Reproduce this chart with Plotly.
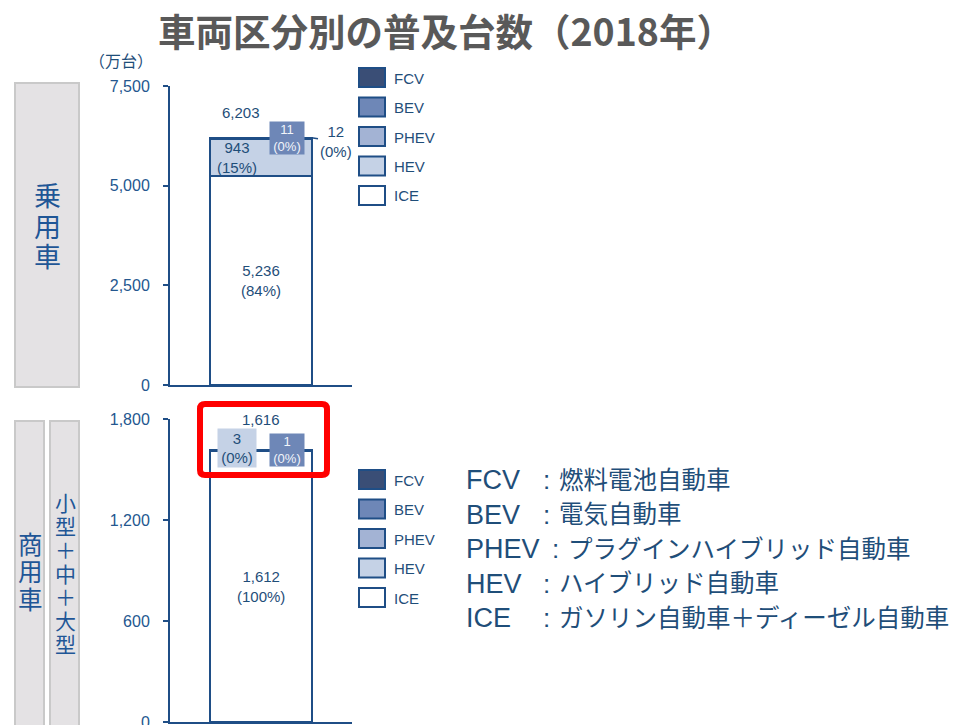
import plotly.graph_objects as go

W, H = 958, 725

# ---------------- data ----------------
title_text = "車両区分別の普及台数（2018年）"
unit_text = "（万台）"
panel_labels = ["乗用車", "商用車"]
sub_label = "小型＋中＋大型"
series = ["ICE", "HEV", "PHEV", "BEV", "FCV"]
passenger_vals = [5236, 943, 12, 11, 1]
commercial_vals = [1612, 3, 0, 1, 0]
series_colors = ["#ffffff", "#c5d2e6", "#a3b3d4", "#6e87b7", "#3a4e76"]
legend_order = ["FCV", "BEV", "PHEV", "HEV", "ICE"]
descriptions = ["燃料電池自動車", "電気自動車", "プラグインハイブリッド自動車",
                "ハイブリッド自動車", "ガソリン自動車＋ディーゼル自動車"]
passenger_ticks = [0, 2500, 5000, 7500]
commercial_ticks = [0, 600, 1200, 1800]

# ---------------- style ----------------
EDGE = "#1f4e86"
AX = "#1f4e86"
TXT = "#1f4e79"
TICKTXT = "#24578f"
CJK = "Noto Sans CJK JP"
MIX = "Liberation Sans, Noto Sans CJK JP"
LAT = "Liberation Sans, Arial, sans-serif"
BW = 0.555


def fx(x):
    return x / W


def fy(y):
    return 1 - y / H


color_of = dict(zip(series, series_colors))
pv = dict(zip(series, passenger_vals))
cv = dict(zip(series, commercial_vals))

fig = go.Figure()
for i, s in enumerate(series):
    fig.add_bar(x=[panel_labels[0]], y=[passenger_vals[i]], xaxis="x", yaxis="y",
                name=s, width=BW, showlegend=False,
                marker=dict(color=series_colors[i], line=dict(color=EDGE, width=2)))
    fig.add_bar(x=[panel_labels[1]], y=[commercial_vals[i]], xaxis="x2", yaxis="y2",
                name=s, width=BW, showlegend=False,
                marker=dict(color=series_colors[i], line=dict(color=EDGE, width=2)))

annotations = []
shapes = []


def note(text, x, y, size, color=TXT, family=CJK, xanchor="center", yanchor="middle", **kw):
    d = dict(text=text, xref="paper", yref="paper", x=fx(x), y=fy(y), showarrow=False,
             font=dict(size=size, color=color, family=family),
             xanchor=xanchor, yanchor=yanchor)
    d.update(kw)
    annotations.append(d)


def pct(v, tot):
    return f"({round(v / tot * 100)}%)"


# ---------- passenger car labels ----------
ptot = sum(passenger_vals)
cat0 = panel_labels[0]
annotations += [
    dict(xref="x", yref="y", x=cat0, y=ptot, text=f"{ptot:,}", showarrow=False,
         yanchor="bottom", yshift=15, xshift=-20, font=dict(size=15, color=TXT, family=LAT)),
    dict(xref="x", yref="y", x=cat0, y=ptot, text=f"{pv['BEV']:,}<br>{pct(pv['BEV'], ptot)}",
         showarrow=False, yanchor="middle", xshift=26, bgcolor=color_of["BEV"],
         width=34, height=32, borderpad=0, font=dict(size=13, color="#f2f5fa", family=LAT)),
    dict(xref="x", yref="y", x=BW / 2, y=ptot, text=f"{pv['PHEV']:,}<br>{pct(pv['PHEV'], ptot)}",
         showarrow=True, arrowhead=0, arrowwidth=1.5, arrowcolor=EDGE, ax=24, ay=4,
         standoff=0, font=dict(size=15, color=TXT, family=LAT)),
    dict(xref="x", yref="y", x=cat0, y=pv["ICE"] + pv["HEV"] / 2,
         text=f"{pv['HEV']:,}<br>{pct(pv['HEV'], ptot)}", showarrow=False, xshift=-24,
         font=dict(size=15, color=TXT, family=LAT)),
    dict(xref="x", yref="y", x=cat0, y=pv["ICE"] / 2,
         text=f"{pv['ICE']:,}<br>{pct(pv['ICE'], ptot)}", showarrow=False,
         font=dict(size=15, color=TXT, family=LAT)),
]

# ---------- commercial labels ----------
ctot = sum(commercial_vals)
cat1 = panel_labels[1]
annotations += [
    dict(xref="x2", yref="y2", x=cat1, y=ctot, text=f"{ctot:,}", showarrow=False,
         yanchor="bottom", yshift=20, font=dict(size=15, color=TXT, family=LAT)),
    dict(xref="x2", yref="y2", x=cat1, y=ctot, text=f"{cv['HEV']:,}<br>{pct(cv['HEV'], ctot)}",
         showarrow=False, yanchor="middle", xshift=-24, yshift=2, bgcolor=color_of["HEV"],
         width=38, height=38, borderpad=0, font=dict(size=15, color=TXT, family=LAT)),
    dict(xref="x2", yref="y2", x=cat1, y=ctot, text=f"{cv['BEV']:,}<br>{pct(cv['BEV'], ctot)}",
         showarrow=False, yanchor="middle", xshift=26, bgcolor=color_of["BEV"],
         width=34, height=32, borderpad=0, font=dict(size=13, color="#f2f5fa", family=LAT)),
    dict(xref="x2", yref="y2", x=cat1, y=cv["ICE"] / 2,
         text=f"{cv['ICE']:,}<br>{pct(cv['ICE'], ctot)}", showarrow=False,
         font=dict(size=15, color=TXT, family=LAT)),
]

# ---------- legends (two copies) ----------
for top in (68, 470):
    for k, s in enumerate(legend_order):
        y0 = top + k * 29.5
        shapes.append(dict(type="rect", xref="paper", yref="paper",
                           x0=fx(359), x1=fx(385), y0=fy(y0), y1=fy(y0 + 19),
                           fillcolor=color_of[s], line=dict(color=EDGE, width=2)))
        note(s, 392, y0 + 10, 15, color=TXT, family=LAT, xanchor="left")

# ---------- description list ----------
for k, (s, desc) in enumerate(zip(legend_order, descriptions)):
    yc = 480 + k * 34.5
    note(s, 465, yc, 27, color=TXT, family=LAT, xanchor="left", borderpad=0)
    colon_x = 555 if len(s) > 3 else 546
    note(":", colon_x, yc, 26, color=TXT, family=LAT, borderpad=0)
    note(desc, colon_x + 12, yc, 24.5, color=TXT, family=MIX, xanchor="left", borderpad=0)

# ---------- left category boxes ----------
BOXF = "#e4e2e4"
BOXL = "#c9c9c9"
shapes.append(dict(type="rect", xref="paper", yref="paper", x0=fx(15), x1=fx(79),
                   y0=fy(83), y1=fy(387), fillcolor=BOXF, line=dict(color=BOXL, width=2)))
shapes.append(dict(type="rect", xref="paper", yref="paper", x0=fx(15), x1=fx(44),
                   y0=fy(421), y1=fy(728), fillcolor=BOXF, line=dict(color=BOXL, width=2)))
shapes.append(dict(type="rect", xref="paper", yref="paper", x0=fx(50), x1=fx(79),
                   y0=fy(421), y1=fy(728), fillcolor=BOXF, line=dict(color=BOXL, width=2)))
VC = "#1f5696"
for k, ch in enumerate(panel_labels[0]):
    note(ch, 47, 197 + k * 30.5, 27, color=VC, family=MIX, borderpad=0)
for k, ch in enumerate(panel_labels[1]):
    note(ch, 30, 545 + k * 27.5, 24.5, color=VC, family=MIX, borderpad=0)
for k, ch in enumerate(sub_label):
    note(ch, 65, 574 + (k - 3) * 23.6, 21, color=VC, family=MIX, borderpad=0)

# ---------- title & unit ----------
note(title_text, 446, 30, 37.5, color="#595959", family=CJK)
annotations[-1]["font"]["weight"] = "bold"
note(unit_text, 121, 60, 16, color=TXT, family=CJK)

# ---------- red highlight ----------
x0, y0, x1, y1, r = 200, 404, 327, 475, 5
pts = [
    f"M {fx(x0 + r)},{fy(y0)}", f"L {fx(x1 - r)},{fy(y0)}", f"Q {fx(x1)},{fy(y0)} {fx(x1)},{fy(y0 + r)}",
    f"L {fx(x1)},{fy(y1 - r)}", f"Q {fx(x1)},{fy(y1)} {fx(x1 - r)},{fy(y1)}",
    f"L {fx(x0 + r)},{fy(y1)}", f"Q {fx(x0)},{fy(y1)} {fx(x0)},{fy(y1 - r)}",
    f"L {fx(x0)},{fy(y0 + r)}", f"Q {fx(x0)},{fy(y0)} {fx(x0 + r)},{fy(y0)}", "Z",
]
shapes.append(dict(type="path", xref="paper", yref="paper", path=" ".join(pts),
                   line=dict(color="#ff0000", width=6), fillcolor="rgba(0,0,0,0)", layer="above"))

xcommon = dict(range=[-0.5, 0.5], showline=True, linecolor=AX, linewidth=2, automargin=False,
               showticklabels=False, ticks="", showgrid=False, zeroline=False, fixedrange=True)
ycommon = dict(showline=True, linecolor=AX, linewidth=2, ticks="outside", ticklen=5,
               tickwidth=2, tickcolor=AX, tickformat=",", showgrid=False, zeroline=False,
               tickfont=dict(size=16, color=TICKTXT, family=LAT), ticklabelstandoff=10,
               fixedrange=True, automargin=False, ticklabeloverflow="allow")

fig.update_layout(
    width=W, height=H, margin=dict(l=0, r=0, t=0, b=0, autoexpand=False),
    paper_bgcolor="white", plot_bgcolor="white", barmode="stack", bargap=0,
    showlegend=False,
    xaxis=dict(domain=[fx(170), fx(352)], anchor="y", **xcommon),
    yaxis=dict(domain=[fy(385), fy(86)], anchor="x", range=[0, 7500],
               tickvals=passenger_ticks, **ycommon),
    xaxis2=dict(domain=[fx(170), fx(352)], anchor="y2", **xcommon),
    yaxis2=dict(domain=[fy(722), fy(419)], anchor="x2", range=[0, 1800],
                tickvals=commercial_ticks, **ycommon),
    annotations=annotations, shapes=shapes,
)

fig.write_html("out.html", config={"displayModeBar": False},
               post_script="document.body.style.margin='0px';document.body.style.overflow='hidden';")
